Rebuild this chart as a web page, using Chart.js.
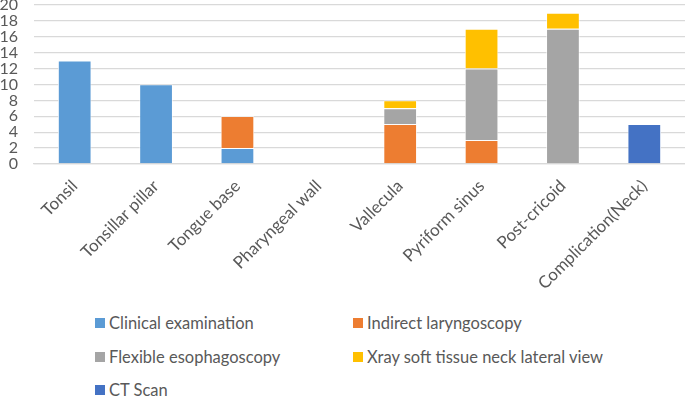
<!DOCTYPE html>
<html>
<head>
<meta charset="utf-8">
<script src="https://cdn.jsdelivr.net/npm/chart.js@4/dist/chart.umd.min.js"></script>
<style>
  html, body { margin: 0; padding: 0; background: #fff; }
  #wrap { position: relative; width: 685px; height: 396px; overflow: hidden; font-family: Lato, sans-serif; }
  #chart-box { position: absolute; left: 0; top: 0; width: 685px; height: 300px; }
  .lg { position: absolute; display: flex; align-items: center; font-size: 16.5px; line-height: 20px; color: #595959; white-space: nowrap; }
  .lg i { display: inline-block; width: 10px; height: 10px; margin-right: 4px; }
</style>
</head>
<body>
<div id="wrap">
  <div id="chart-box"><canvas id="main-chart"></canvas></div>
  <div id="legend"></div>
</div>
<script>
const categories = ['Tonsil', 'Tonsillar pillar', 'Tongue base', 'Pharyngeal wall', 'Vallecula', 'Pyriform sinus', 'Post-cricoid', 'Complication(Neck)'];

const clinical  = [13, 10, 2, 0, 0, 0, 0, 0];
const indirect  = [0, 0, 4, 0, 5, 3, 0, 0];
const flexible  = [0, 0, 0, 0, 2, 9, 17, 0];
const xray      = [0, 0, 0, 0, 1, 5, 2, 0];
const ctScan    = [0, 0, 0, 0, 0, 0, 0, 5];

const seriesNames  = ['Clinical examination', 'Indirect laryngoscopy', 'Flexible esophagoscopy', 'Xray soft tissue neck lateral view', 'CT Scan'];
const seriesColors = ['#5B9BD5', '#ED7D31', '#A5A5A5', '#FFC000', '#4472C4'];
const yTicks = [0, 2, 4, 6, 8, 10, 12, 14, 16, 18, 20];

const tc = '#595959';
const series = [clinical, indirect, flexible, xray, ctScan];

const datasets = series.map((vals, i) => ({
  label: seriesNames[i],
  data: vals,
  backgroundColor: seriesColors[i],
  borderColor: '#ffffff',
  borderWidth: 0.8,
  barPercentage: 0.41,
  categoryPercentage: 1.0,
}));

new Chart(document.getElementById('main-chart'), {
  type: 'bar',
  data: { labels: categories, datasets },
  options: {
    responsive: true, maintainAspectRatio: false,
    animation: false,
    layout: { padding: { top: 5, right: 0, left: 0, bottom: 0 } },
    plugins: { legend: { display: false }, tooltip: { enabled: false } },
    scales: {
      x: {
        stacked: true,
        grid: { display: false },
        border: { color: '#d9d9d9', width: 1.3 },
        ticks: { color: tc, font: { family: 'Lato', size: 17 }, minRotation: 45, maxRotation: 45, padding: 4, autoSkip: false },
        afterFit: s => { s.height = 136; s.paddingLeft = 0; s.paddingRight = 0; }
      },
      y: {
        stacked: true,
        min: yTicks[0], max: yTicks[yTicks.length - 1],
        afterBuildTicks: s => { s.ticks = yTicks.map(v => ({ value: v })); },
        grid: { color: '#d9d9d9', lineWidth: 1.3, drawTicks: false },
        border: { display: false },
        ticks: { color: tc, font: { family: 'Lato', size: 16 }, padding: 16, autoSkip: false },
        afterFit: s => { s.width = 34; s.paddingTop = 0; s.paddingBottom = 0; }
      }
    }
  }
});

// legend in two columns, like the original
const legendPos = [[95, 313], [353, 313], [95, 347], [353, 347], [95, 380]];
document.getElementById('legend').innerHTML = seriesNames.map((n, i) =>
  `<div class="lg" style="left:${legendPos[i][0]}px;top:${legendPos[i][1]}px"><i style="background:${seriesColors[i]}"></i>${n}</div>`
).join('');
</script>
</body>
</html>
